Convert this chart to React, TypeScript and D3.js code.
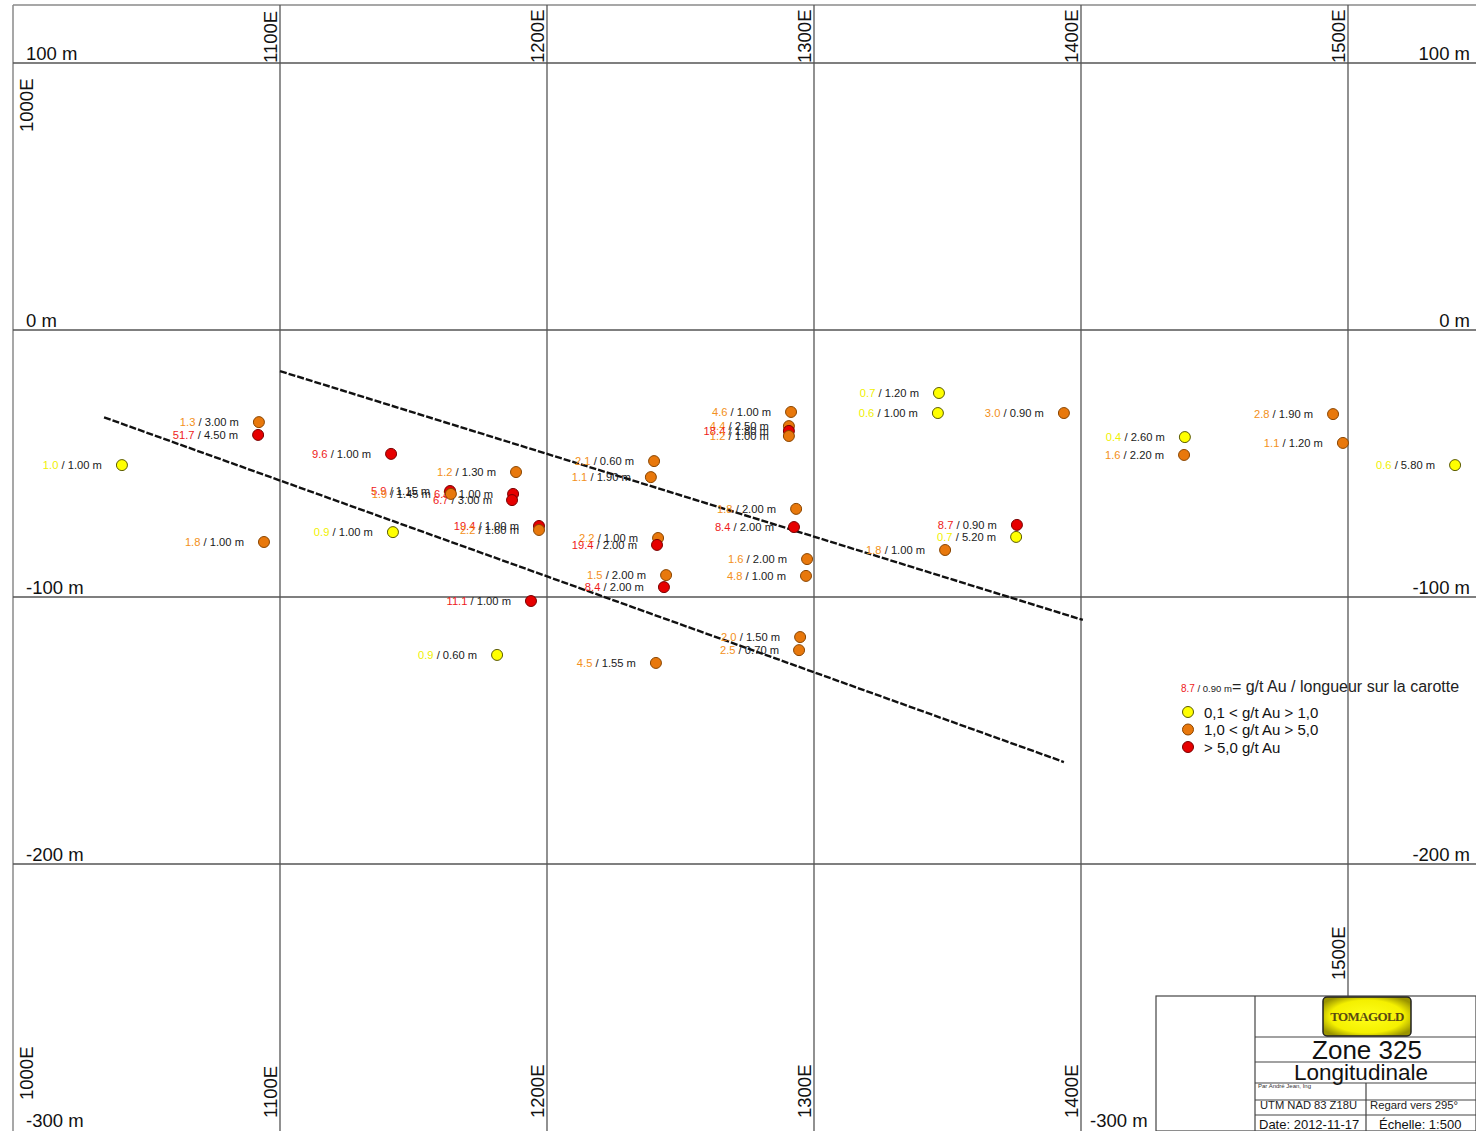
import React from "react";
import * as d3 from "d3";

// Drill intercepts: easting (m), elevation (m), gold grade (g/t Au), core length (m)
const holeEasting = [
  1092.1, 1091.8, 1040.8, 1094.0, 1141.6, 1188.4, 1163.7, 1164.0, 1187.3, 1186.9,
  1197.0, 1197.0, 1194.0, 1181.3, 1142.3, 1240.1, 1238.9, 1241.6, 1241.2, 1244.6,
  1243.8, 1240.8, 1291.4, 1290.6, 1290.6, 1290.6, 1293.3, 1292.5, 1297.4, 1297.0,
  1294.8, 1294.4, 1346.8, 1346.4, 1393.6, 1376.0, 1375.7, 1349.1, 1438.9, 1438.6,
  1494.4, 1498.1, 1540.1,
];
const holeElevation = [
  -34.5, -39.3, -50.6, -79.4, -46.4, -53.2, -60.3, -61.4, -61.4, -63.7,
  -73.4, -74.9, -101.5, -121.7, -75.7, -49.1, -55.1, -77.9, -80.5, -91.8,
  -96.3, -124.7, -30.7, -36.0, -37.8, -39.7, -67.0, -73.8, -85.8, -92.1,
  -115.0, -119.9, -23.6, -31.1, -31.1, -73.0, -77.5, -82.4, -40.1, -46.8,
  -31.5, -42.3, -50.6,
];
const holeGrade = [
  "1.3", "51.7", "1.0", "1.8", "9.6", "1.2", "5.9", "1.9", "6.8", "6.7",
  "19.4", "2.2", "11.1", "0.9", "0.9", "2.1", "1.1", "2.2", "19.4", "1.5",
  "8.4", "4.5", "4.6", "4.4", "18.4", "1.2", "1.8", "8.4", "1.6", "4.8",
  "2.0", "2.5", "0.7", "0.6", "3.0", "8.7", "0.7", "1.8", "0.4", "1.6",
  "2.8", "1.1", "0.6",
];
const holeLength = [
  "3.00", "4.50", "1.00", "1.00", "1.00", "1.30", "1.15", "1.45", "1.00", "3.00",
  "1.00", "1.60", "1.00", "0.60", "1.00", "0.60", "1.90", "1.00", "2.00", "2.00",
  "2.00", "1.55", "1.00", "2.50", "1.80", "1.00", "2.00", "2.00", "2.00", "1.00",
  "1.50", "0.70", "1.20", "1.00", "0.90", "0.90", "5.20", "1.00", "2.60", "2.20",
  "1.90", "1.20", "5.80",
];

// Interpreted structures (dashed traces): [easting, elevation] endpoints
const upperTrace = [[1100.0, -15.4], [1400.7, -108.6]];
const lowerTrace = [[1034.1, -32.7], [1393.6, -161.8]];

const eastTicks = [1100, 1200, 1300, 1400, 1500];
const elevTicks = [100, 0, -100, -200];
const legendLabels = ["0,1 < g/t Au > 1,0", "1,0 < g/t Au > 5,0", "> 5,0 g/t Au"];

const W = 1476;
const H = 1131;
const FONT = "'Liberation Sans', Arial, Helvetica, sans-serif";

const x = d3.scaleLinear().domain([1000, 1500]).range([13, 1348]);
const y = d3.scaleLinear().domain([100, -300]).range([63, 1131]);

type Cls = 0 | 1 | 2;
const gradeClass = (g: number): Cls => (g <= 1.0 ? 0 : g <= 5.0 ? 1 : 2);
const dotFill = ["#ffff00", "#e8780c", "#e60000"];
const dotStroke = ["#5a5a00", "#8a4500", "#7a0000"];
const gradeText = ["#f0f000", "#f39020", "#ee1a1a"];

const line = d3
  .line<number[]>()
  .x((d) => x(d[0]))
  .y((d) => y(d[1]));

export default function App() {
  const gridColor = "#555";
  const tbLeft = 1156;
  const tbTop = 996;
  const tbInner = 1255;
  const tbMid = 1366;

  return (
    <svg
      width={W}
      height={H}
      viewBox={`0 0 ${W} ${H}`}
      style={{ position: "absolute", left: 0, top: 0, background: "#fff", fontFamily: FONT }}
    >
      <defs>
        <radialGradient id="logoGrad" cx="50%" cy="50%" r="60%">
          <stop offset="0%" stopColor="#ffff1a" />
          <stop offset="70%" stopColor="#f4f000" />
          <stop offset="100%" stopColor="#9a9400" />
        </radialGradient>
      </defs>

      {/* frame */}
      <line x1={13} x2={W} y1={5} y2={5} stroke="#8a8a8a" strokeWidth={1.5} />
      <line x1={13} x2={13} y1={5} y2={H} stroke="#8a8a8a" strokeWidth={1.5} />

      {/* elevation grid */}
      {elevTicks.map((t) => (
        <line key={`h${t}`} x1={13} x2={W} y1={y(t)} y2={y(t)} stroke={gridColor} strokeWidth={1.3} />
      ))}
      {/* easting grid */}
      {eastTicks.map((t) => (
        <line
          key={`v${t}`}
          x1={x(t)}
          x2={x(t)}
          y1={5}
          y2={t === 1500 ? tbTop : H}
          stroke={gridColor}
          strokeWidth={1.3}
        />
      ))}

      {/* elevation labels */}
      {elevTicks.map((t) => (
        <g key={`el${t}`} fontSize={18.5} fill="#111">
          <text x={26} y={y(t) - 3}>{`${t} m`}</text>
          <text x={1470} y={y(t) - 3} textAnchor="end">{`${t} m`}</text>
        </g>
      ))}
      <text x={26} y={1127} fontSize={18.5} fill="#111">-300 m</text>
      <text x={1090} y={1127} fontSize={18.5} fill="#111">-300 m</text>

      {/* easting labels (rotated) */}
      <text transform={`translate(33,132) rotate(-90)`} fontSize={18.5} fill="#111">1000E</text>
      <text transform={`translate(33,1100) rotate(-90)`} fontSize={18.5} fill="#111">1000E</text>
      {eastTicks.map((t) => (
        <text
          key={`et${t}`}
          transform={`translate(${x(t) - 3},${y(100)}) rotate(-90)`}
          fontSize={18.5}
          fill="#111"
        >
          {`${t}E`}
        </text>
      ))}
      {eastTicks.map((t) => (
        <text
          key={`eb${t}`}
          transform={`translate(${x(t) - 3},${t === 1500 ? 980 : 1118}) rotate(-90)`}
          fontSize={18.5}
          fill="#111"
        >
          {`${t}E`}
        </text>
      ))}

      {/* interpreted traces */}
      {[upperTrace, lowerTrace].map((tr, i) => (
        <path
          key={`tr${i}`}
          d={line(tr) || ""}
          fill="none"
          stroke="#111"
          strokeWidth={2.4}
          strokeDasharray="7,2"
        />
      ))}

      {/* intercept labels */}
      {holeGrade.map((g, i) => {
        const c = gradeClass(+g);
        return (
          <text
            key={`lb${i}`}
            x={x(holeEasting[i]) - 20}
            y={y(holeElevation[i])}
            dy="0.35em"
            textAnchor="end"
            fontSize={11.2}
            fill="#1a1a1a"
          >
            <tspan fill={gradeText[c]}>{g}</tspan>
            {`  / ${holeLength[i]} m`}
          </text>
        );
      })}

      {/* intercept markers */}
      {holeGrade.map((g, i) => {
        const c = gradeClass(+g);
        return (
          <circle
            key={`pt${i}`}
            cx={x(holeEasting[i])}
            cy={y(holeElevation[i])}
            r={5.5}
            fill={dotFill[c]}
            stroke={dotStroke[c]}
            strokeWidth={1}
          />
        );
      })}

      {/* legend */}
      <text x={1181} y={692} fontSize={10} fill="#222">
        <tspan fill={gradeText[2]}>8.7</tspan>
        <tspan fontSize={9.5}>{"  / 0.90 m"}</tspan>
        <tspan fontSize={16}>= g/t Au / longueur sur la carotte</tspan>
      </text>
      {legendLabels.map((l, i) => (
        <g key={`lg${i}`}>
          <circle
            cx={1188}
            cy={712 + i * 17.5}
            r={5.5}
            fill={dotFill[i]}
            stroke={dotStroke[i]}
            strokeWidth={1}
          />
          <text x={1204} y={717.5 + i * 17.5} fontSize={15} fill="#111">{l}</text>
        </g>
      ))}

      {/* title block */}
      <g stroke="#444" strokeWidth={1.2} fill="none">
        <rect x={tbLeft} y={tbTop} width={W - tbLeft} height={H - tbTop} fill="#fff" />
        <line x1={tbInner} x2={tbInner} y1={tbTop} y2={H} />
        <line x1={tbInner} x2={W} y1={1037} y2={1037} />
        <line x1={tbInner} x2={W} y1={1062} y2={1062} />
        <line x1={tbInner} x2={W} y1={1083} y2={1083} />
        <line x1={tbInner} x2={W} y1={1100} y2={1100} />
        <line x1={tbInner} x2={W} y1={1115} y2={1115} />
        <line x1={tbMid} x2={tbMid} y1={1083} y2={H} />
      </g>
      <rect x={1323} y={997} width={88} height={39} rx={4} fill="url(#logoGrad)" stroke="#222" strokeWidth={1.5} />
      <text
        x={1367}
        y={1021}
        textAnchor="middle"
        fontSize={13}
        fontFamily="'Liberation Serif', 'DejaVu Serif', serif"
        fontWeight="bold"
        fill="#5a4a10"
        letterSpacing={-0.6}
      >
        TOMAGOLD
      </text>
      <text x={1367} y={1059} textAnchor="middle" fontSize={26} fill="#111">Zone 325</text>
      <text x={1361} y={1080} textAnchor="middle" fontSize={22.5} fill="#111">Longitudinale</text>
      <text x={1258} y={1088} fontSize={6} fill="#333">Par André Jean, Ing</text>
      <text x={1260} y={1109} fontSize={11.2} fill="#222">UTM NAD 83 Z18U</text>
      <text x={1370} y={1109} fontSize={11.3} fill="#222">Regard vers 295°</text>
      <text x={1259} y={1129} fontSize={13} fill="#111">Date: 2012-11-17</text>
      <text x={1379} y={1129} fontSize={13} fill="#111">Échelle: 1:500</text>
    </svg>
  );
}
